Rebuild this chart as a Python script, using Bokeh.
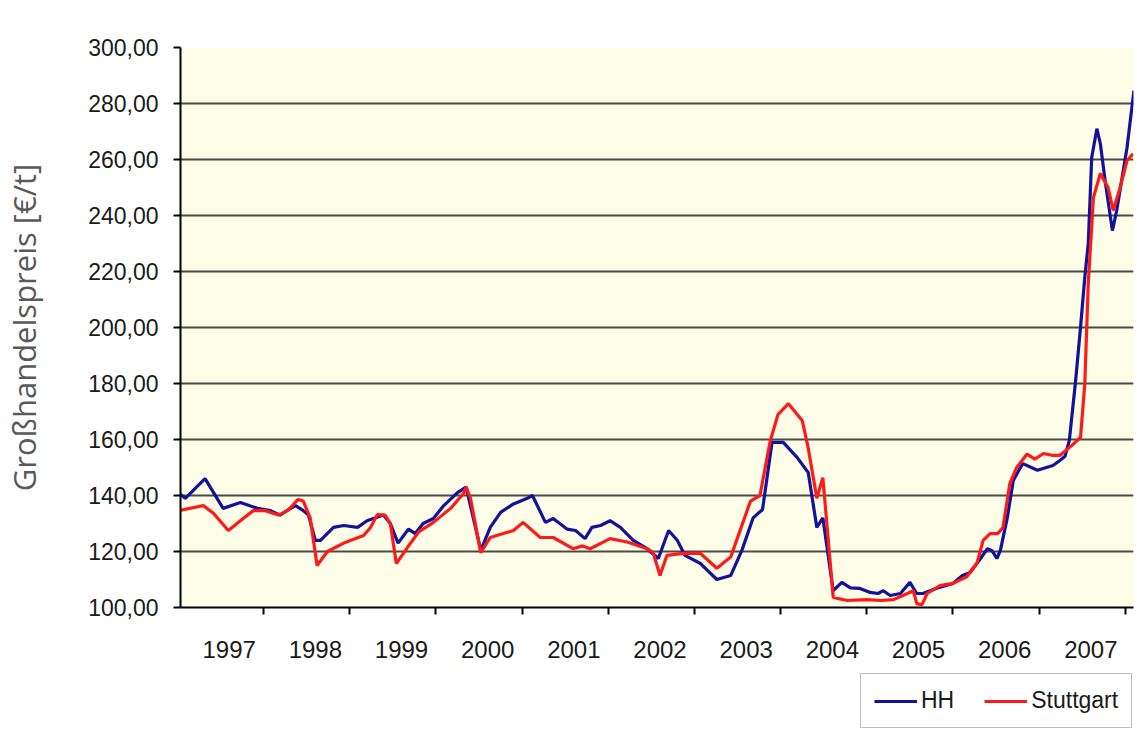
from bokeh.plotting import figure
from bokeh.layouts import column
from bokeh.models import FixedTicker, CustomJSTickFormatter, Legend, LegendItem, Range1d
from bokeh.embed import file_html
from bokeh.resources import INLINE

# ---- data ----
hh_year = [1997.01, 1997.09, 1997.32, 1997.53, 1997.73, 1997.93, 1998.08, 1998.19, 1998.29, 1998.37,
           1998.46, 1998.52, 1998.60, 1998.66, 1998.81, 1998.93, 1999.09, 1999.20, 1999.39, 1999.47,
           1999.56, 1999.68, 1999.76, 1999.85, 1999.97, 2000.09, 2000.25, 2000.35, 2000.52, 2000.63,
           2000.75, 2000.90, 2001.06, 2001.12, 2001.27, 2001.36, 2001.52, 2001.62, 2001.73, 2001.81,
           2001.91, 2002.02, 2002.14, 2002.29, 2002.45, 2002.58, 2002.70, 2002.80, 2002.89, 2003.07,
           2003.26, 2003.42, 2003.55, 2003.68, 2003.79, 2003.90, 2004.03, 2004.19, 2004.32, 2004.42,
           2004.49, 2004.61, 2004.71, 2004.81, 2004.92, 2005.04, 2005.13, 2005.19, 2005.27, 2005.39,
           2005.50, 2005.58, 2005.65, 2005.82, 2006.00, 2006.11, 2006.20, 2006.32, 2006.40, 2006.45,
           2006.51, 2006.55, 2006.63, 2006.70, 2006.81, 2006.98, 2007.16, 2007.24, 2007.30, 2007.35,
           2007.42, 2007.48, 2007.53, 2007.57, 2007.61, 2007.67, 2007.71, 2007.77, 2007.85, 2007.90,
           2008.02, 2008.10]
hh_price = [141.0, 139.0, 146.0, 135.4, 137.5, 135.4, 134.6, 133.0, 135.0, 136.4,
            134.6, 133.0, 124.0, 124.0, 128.6, 129.3, 128.6, 131.0, 133.0, 130.0,
            123.0, 128.0, 126.4, 130.0, 131.8, 136.4, 141.0, 143.0, 120.4, 128.6,
            134.0, 137.0, 139.0, 140.0, 130.4, 131.8, 128.0, 127.5, 124.6, 128.6,
            129.3, 131.0, 128.6, 124.0, 121.0, 117.5, 127.5, 124.0, 118.6, 115.7,
            110.0, 111.4, 120.4, 132.0, 135.0, 159.0, 159.0, 153.6, 148.2, 128.6,
            132.0, 106.0, 109.0, 107.0, 106.8, 105.4, 105.0, 106.0, 104.3, 105.0,
            109.0, 105.0, 105.0, 107.0, 108.6, 111.4, 112.5, 117.5, 121.0, 120.4,
            117.5, 120.4, 132.0, 145.4, 151.4, 149.0, 150.7, 152.5, 154.0, 159.6,
            180.0, 200.0, 218.0, 230.0, 260.7, 271.0, 265.7, 251.4, 234.6, 241.8,
            264.3, 284.6]

st_year = [1997.01, 1997.30, 1997.42, 1997.59, 1997.73, 1997.88, 1998.02, 1998.17, 1998.28, 1998.40,
           1998.46, 1998.54, 1998.62, 1998.74, 1998.93, 1999.16, 1999.24, 1999.32, 1999.41, 1999.47,
           1999.54, 1999.67, 1999.80, 1999.97, 2000.17, 2000.32, 2000.35, 2000.40, 2000.52, 2000.63,
           2000.78, 2000.90, 2001.01, 2001.21, 2001.36, 2001.59, 2001.70, 2001.79, 2002.02, 2002.22,
           2002.45, 2002.52, 2002.60, 2002.68, 2002.87, 2003.07, 2003.26, 2003.42, 2003.65, 2003.76,
           2003.88, 2003.97, 2004.09, 2004.25, 2004.32, 2004.42, 2004.49, 2004.61, 2004.77, 2005.00,
           2005.16, 2005.31, 2005.47, 2005.54, 2005.58, 2005.64, 2005.70, 2005.85, 2006.00, 2006.16,
           2006.28, 2006.35, 2006.43, 2006.52, 2006.58, 2006.66, 2006.74, 2006.86, 2006.95, 2007.05,
           2007.16, 2007.24, 2007.38, 2007.48, 2007.53, 2007.57, 2007.63, 2007.71, 2007.80, 2007.86,
           2007.94, 2008.02, 2008.09]
st_price = [134.6, 136.4, 133.6, 127.5, 131.0, 134.6, 134.6, 133.0, 134.6, 138.6,
            138.0, 132.0, 115.0, 120.0, 123.0, 125.7, 128.6, 133.2, 133.0, 130.0,
            115.7, 121.5, 127.0, 130.4, 135.4, 140.7, 143.0, 139.0, 119.6, 125.0,
            126.4, 127.5, 130.4, 125.0, 125.0, 121.0, 122.0, 121.0, 124.6, 123.4,
            121.0, 119.6, 111.4, 118.6, 119.3, 119.3, 114.0, 118.0, 138.0, 140.0,
            159.6, 169.0, 172.8, 166.8, 157.0, 139.0, 146.4, 103.6, 102.5, 102.8,
            102.5, 102.8, 105.0, 106.0, 101.4, 101.0, 105.0, 107.8, 108.6, 111.0,
            116.0, 124.0, 126.4, 126.4, 128.6, 144.3, 150.0, 154.8, 153.0, 155.0,
            154.3, 154.3, 157.9, 160.7, 180.0, 215.7, 246.4, 255.0, 250.0, 241.8,
            250.0, 259.6, 262.0]

year_labels = [1997, 1998, 1999, 2000, 2001, 2002, 2003, 2004, 2005, 2006, 2007]
year_bounds = [1998, 1999, 2000, 2001, 2002, 2003, 2004, 2005, 2006, 2007, 2008]
y_ticks = [100, 120, 140, 160, 180, 200, 220, 240, 260, 280, 300]
series_names = ["HH", "Stuttgart"]
series_colors = ["#12129c", "#ff1a1a"]

# ---- main chart ----
p = figure(width=1137, height=670, output_backend="svg", toolbar_location=None,
           x_range=Range1d(1997.035, 2008.095), y_range=Range1d(100, 300),
           min_border_left=180, min_border_top=47, min_border_right=4, min_border_bottom=63)
p.background_fill_color = "#FEFDE8"
p.border_fill_color = "white"
p.outline_line_color = None

p.xgrid.visible = False
p.ygrid.ticker = FixedTicker(ticks=y_ticks)
p.ygrid.grid_line_color = "#4a4a42"
p.ygrid.grid_line_width = 2

# y axis
p.yaxis.ticker = FixedTicker(ticks=y_ticks)
p.yaxis.formatter = CustomJSTickFormatter(code="return tick.toFixed(2).replace('.', ',');")
p.yaxis.axis_line_color = "black"
p.yaxis.axis_line_width = 2
p.yaxis.major_tick_line_color = "black"
p.yaxis.major_tick_line_width = 2
p.yaxis.major_tick_out = 7
p.yaxis.major_tick_in = 0
p.yaxis.minor_tick_line_color = None
p.yaxis.major_label_standoff = 15
p.yaxis.major_label_text_font = "Liberation Sans"
p.yaxis.major_label_text_font_size = "23px"
p.yaxis.major_label_text_color = "#1a1a1a"
p.yaxis.axis_label = "Großhandelspreis [€/t]"
p.yaxis.axis_label_text_font = "Open Sans"
p.yaxis.axis_label_text_font_size = "31px"
p.yaxis.axis_label_text_font_style = "normal"
p.yaxis.axis_label_text_color = "#595959"
p.yaxis.axis_label_standoff = 40

# x axis: labels centred inside each year, tick marks at year boundaries
p.xaxis.ticker = FixedTicker(ticks=[y + 0.6 for y in year_labels], minor_ticks=year_bounds)
p.xaxis.formatter = CustomJSTickFormatter(code="return Math.floor(tick).toString();")
p.xaxis.axis_line_color = "black"
p.xaxis.axis_line_width = 2
p.xaxis.major_tick_line_color = None
p.xaxis.major_tick_out = 0
p.xaxis.major_tick_in = 0
p.xaxis.minor_tick_line_color = "black"
p.xaxis.minor_tick_line_width = 2
p.xaxis.minor_tick_out = 7
p.xaxis.minor_tick_in = 0
p.xaxis.major_label_standoff = 26
p.xaxis.major_label_text_font = "Liberation Sans"
p.xaxis.major_label_text_font_size = "24px"
p.xaxis.major_label_text_color = "#1a1a1a"

p.line(hh_year, hh_price, line_color=series_colors[0], line_width=3.2)
p.line(st_year, st_price, line_color=series_colors[1], line_width=3.2)

# ---- legend strip below the chart (its frame is aligned with the chart's) ----
lg = figure(width=1137, height=65, output_backend="svg", toolbar_location=None,
            x_axis_type=None, y_axis_type=None,
            x_range=Range1d(0, 1), y_range=Range1d(0, 1),
            min_border_left=0, min_border_right=0, min_border_top=0, min_border_bottom=0)
lg.outline_line_color = None
lg.xgrid.visible = False
lg.ygrid.visible = False
lg.background_fill_color = "white"
lg.border_fill_color = "white"
# the series are drawn here only so that the legend has their glyphs; they lie outside this strip's view
r1 = lg.line(hh_year, hh_price, line_color=series_colors[0], line_width=3.2)
r2 = lg.line(st_year, st_price, line_color=series_colors[1], line_width=3.2)
items = [LegendItem(label=series_names[0], renderers=[r1]),
         LegendItem(label=series_names[1], renderers=[r2])]

legend = Legend(items=items, orientation="horizontal", location=(680, 7))
legend.border_line_color = "#808080"
legend.border_line_width = 1.5
legend.background_fill_color = "white"
legend.background_fill_alpha = 1.0
legend.label_text_font = "Liberation Sans"
legend.label_text_font_size = "23px"
legend.label_text_color = "#1a1a1a"
legend.glyph_width = 43
legend.glyph_height = 20
legend.label_standoff = 4
legend.spacing = 30
legend.padding = 13
legend.margin = 0
lg.add_layout(legend)

layout = column(p, lg, spacing=0)
open("out.html", "w").write(file_html(layout, INLINE))
